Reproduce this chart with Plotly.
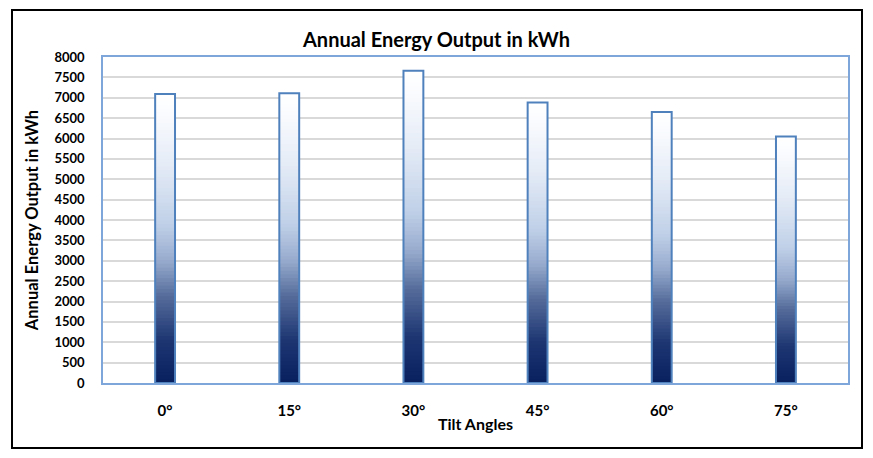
import plotly.graph_objects as go

# ---- data ----
categories = ["0°", "15°", "30°", "45°", "60°", "75°"]
energy_kwh = [7090, 7110, 7660, 6885, 6650, 6050]
y_ticks = list(range(0, 8001, 500))

title_text = "Annual Energy Output in kWh"
x_title = "Tilt Angles"
y_title = "Annual Energy Output in kWh"

# ---- style ----
FONT = "Lato"
W, H = 873, 458
L, R, T, B = 103, 25, 57, 75
BAR_W = 0.16
OUTLINE = "#4f81bd"
FRAME = "#7ea6da"
GRID = "#d9d9d9"

# gradient stops: (fraction from bar bottom, rgb)
stops = [
    (0.00, (8, 32, 94)),
    (0.15, (30, 55, 115)),
    (0.30, (85, 108, 155)),
    (0.42, (150, 170, 205)),
    (0.55, (192, 208, 232)),
    (0.75, (228, 235, 246)),
    (0.95, (252, 253, 255)),
    (1.00, (255, 255, 255)),
]


def grad(f):
    for (f0, c0), (f1, c1) in zip(stops[:-1], stops[1:]):
        if f <= f1:
            t = 0 if f1 == f0 else (f - f0) / (f1 - f0)
            c = [round(a + (b - a) * t) for a, b in zip(c0, c1)]
            return "rgb(%d,%d,%d)" % tuple(c)
    return "rgb(255,255,255)"


fig = go.Figure()
N = 80
for k in range(N):
    f = k / N
    fig.add_trace(go.Bar(
        x=categories,
        base=[v * f for v in energy_kwh],
        y=[v * (1 - f) for v in energy_kwh],
        width=BAR_W,
        marker=dict(color=grad(f + 0.5 / N), line=dict(width=0)),
        showlegend=False, hoverinfo="skip",
    ))

# outline
fig.add_trace(go.Bar(
    x=categories, y=energy_kwh, width=BAR_W,
    marker=dict(color="rgba(0,0,0,0)", line=dict(color=OUTLINE, width=2)),
    showlegend=False,
))

# outer black frame (pixel -> paper conversion)
pw, ph = W - L - R, H - T - B
def px(x):
    return (x - L) / pw
def py(y):
    return (H - B - y) / ph

fig.add_shape(type="rect", xref="paper", yref="paper",
              x0=px(12), x1=px(862), y0=py(448), y1=py(10),
              line=dict(color="black", width=2), layer="above")

fig.update_layout(
    width=W, height=H,
    margin=dict(l=L, r=R, t=T, b=B),
    barmode="overlay",
    plot_bgcolor="white", paper_bgcolor="white",
    font=dict(family=FONT, color="black"),
    title=dict(text="<b>%s</b>" % title_text, x=0.5, xanchor="center",
               y=1 - 40 / H, yanchor="middle", yref="container",
               font=dict(size=20, family=FONT, color="black")),
    xaxis=dict(
        type="category", categoryorder="array", categoryarray=categories,
        tickvals=categories, ticktext=["<b>%s</b>" % c for c in categories],
        tickfont=dict(size=15), showgrid=False,
        showline=True, linecolor=FRAME, linewidth=1.5, mirror=True,
        ticks="", ticklabelstandoff=13,
        title=dict(text="<b>%s</b>" % x_title, font=dict(size=16), standoff=1),
        range=[-0.5, len(categories) - 0.5],
    ),
    yaxis=dict(
        range=[0, 8000], tickvals=y_ticks,
        ticktext=["<b>%d</b>" % v for v in y_ticks],
        tickfont=dict(size=13),
        showgrid=True, gridcolor=GRID, gridwidth=1.5,
        showline=True, linecolor=FRAME, linewidth=1.5, mirror=True,
        zeroline=False, ticks="", ticklabelstandoff=14,
        title=dict(text="<b>%s</b>" % y_title, font=dict(size=16.5), standoff=12),
    ),
)

fig.write_html(
    "out.html",
    config={"displayModeBar": False},
    post_script="document.body.style.margin='0';document.body.style.overflow='hidden';",
)
